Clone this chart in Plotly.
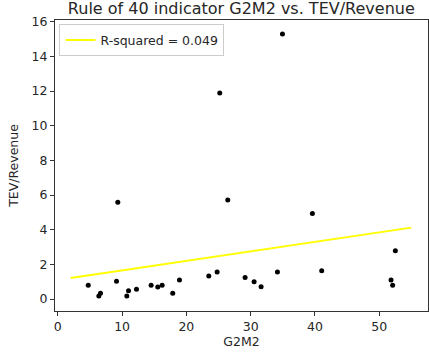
import plotly.graph_objects as go

# Scatter data (G2M2 vs TEV/Revenue)
g2m2 = [4.73, 6.38, 6.64, 9.13, 9.33, 10.73, 11.0, 12.24, 14.52, 15.55, 16.23, 17.88,
        18.93, 23.49, 24.79, 25.2, 26.44, 29.14, 30.54, 31.63, 34.17, 34.95, 39.61,
        41.06, 51.85, 52.1, 52.52]
tev_rev = [0.79, 0.17, 0.33, 1.02, 5.58, 0.17, 0.48, 0.56, 0.79, 0.69, 0.79, 0.33,
           1.1, 1.33, 1.56, 11.89, 5.71, 1.25, 1.0, 0.71, 1.56, 15.29, 4.94,
           1.63, 1.1, 0.79, 2.79]

# Regression line endpoints
fit_x = [2, 55]
fit_y = [1.21, 4.12]
fit_label = "R-squared = 0.049"

x_ticks = [0, 10, 20, 30, 40, 50]
y_ticks = [0, 2, 4, 6, 8, 10, 12, 14, 16]

FONT = "DejaVu Sans"
TXT = "#262626"
FS = 12.5

fig = go.Figure()
fig.add_trace(go.Scatter(x=fit_x, y=fit_y, mode="lines", name=fit_label,
                         line=dict(color="#ffff00", width=2)))
fig.add_trace(go.Scatter(x=g2m2, y=tev_rev, mode="markers", showlegend=False,
                         marker=dict(color="black", size=5)))

axis_common = dict(showline=True, mirror=True, linecolor="#333333", linewidth=1,
                   ticks="outside", ticklen=4, tickcolor="#333333", showgrid=False,
                   zeroline=False, tickfont=dict(family=FONT, size=FS, color=TXT))

fig.update_layout(
    width=429, height=361,
    margin=dict(l=55, r=1, t=20, b=50),
    paper_bgcolor="white", plot_bgcolor="white",
    font=dict(family=FONT, color=TXT),
    title=dict(text="Rule of 40 indicator G2M2 vs. TEV/Revenue", x=0.5625, xanchor="center",
               y=0.977, yanchor="middle", font=dict(family=FONT, size=16, color=TXT)),
    xaxis=dict(range=[-0.44, 57.6], tickvals=x_ticks,
               title=dict(text="G2M2", font=dict(family=FONT, size=FS, color=TXT), standoff=4),
               **axis_common),
    yaxis=dict(range=[-0.69, 16.1], tickvals=y_ticks,
               title=dict(text="TEV/Revenue", font=dict(family=FONT, size=FS, color=TXT), standoff=10),
               **axis_common),
    legend=dict(x=0.012, y=0.985, xanchor="left", yanchor="top",
                bgcolor="rgba(255,255,255,0.8)", bordercolor="#cccccc", borderwidth=1,
                tracegroupgap=0,
                font=dict(family=FONT, size=FS, color=TXT)),
)

fig.write_html("out.html")
